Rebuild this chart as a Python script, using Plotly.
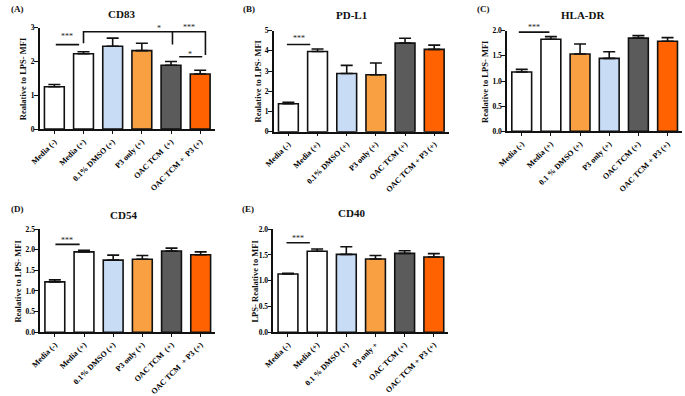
import plotly.graph_objects as go

W, H = 685, 396

# ---------------- data ----------------
LABELS_A = ["Media (-)", "Media (+)", "0.1% DMSO (+)", "P3 only (+)", "OAC TCM  (+)", "OAC TCM +  P3 (+)"]
LABELS_B = ["Media (-)", "Media (+)", "0.1% DMSO (+)", "P3 only (+)", "OAC TCM (+)", "OAC TCM + P3 (+)"]
LABELS_C = ["Media (-)", "Media (+)", "0.1 % DMSO (+)", "P3 only (+)", "OAC TCM (+)", "OAC TCM + P3 (+)"]
LABELS_D = ["Media (-)", "Media (+)", "0.1% DMSO (+)", "P3 only (+)", "OAC TCM  (+)", "OAC TCM  + P3 (+)"]
LABELS_E = ["Media (-)", "Media (+)", "0.1 % DMSO (+)", "P3 only +", "OAC TCM (+)", "OAC TCM + P3 (+)"]

CD83 = [1.25, 2.23, 2.45, 2.32, 1.89, 1.63]
CD83_ERR = [0.07, 0.06, 0.24, 0.22, 0.11, 0.11]
PDL1 = [1.38, 3.97, 2.88, 2.82, 4.38, 4.07]
PDL1_ERR = [0.08, 0.12, 0.40, 0.58, 0.24, 0.21]
HLADR = [1.18, 1.83, 1.535, 1.45, 1.85, 1.79]
HLADR_ERR = [0.05, 0.05, 0.20, 0.13, 0.05, 0.07]
CD54 = [1.22, 1.95, 1.75, 1.77, 1.97, 1.88]
CD54_ERR = [0.05, 0.04, 0.12, 0.09, 0.07, 0.07]
CD40 = [1.13, 1.57, 1.51, 1.42, 1.53, 1.46]
CD40_ERR = [0.015, 0.045, 0.15, 0.07, 0.05, 0.065]

WHITE, BLUE, ORANGE, GRAY, RED = "#ffffff", "#c8dcf6", "#f9a043", "#5b5b5b", "#ff6200"
COLORS_STD = [WHITE, WHITE, BLUE, ORANGE, GRAY, RED]
COLORS_C = [WHITE, WHITE, ORANGE, BLUE, GRAY, RED]

# significance brackets: (x points, y points) in data units; stars: (x, y, text)
SIG_A = [([0.05, 0.85], [2.50, 2.50]),
         ([1.0, 1.0, 5.18, 5.18], [2.54, 2.88, 2.88, 2.19]),
         ([4.05, 4.05], [2.88, 2.50]),
         ([4.28, 5.07], [2.14, 2.14])]
STARS_A = [(0.45, 2.74, "***"), (3.6, 2.97, "*"), (4.62, 3.02, "***"), (4.65, 2.21, "*")]
SIG_B = [([-0.05, 0.75], [4.31, 4.31])]
STARS_B = [(0.35, 4.62, "***")]
SIG_C = [([-0.1, 0.95], [1.97, 1.97])]
STARS_C = [(0.42, 2.06, "***")]
SIG_D = [([0.02, 0.85], [2.13, 2.13])]
STARS_D = [(0.43, 2.22, "***")]
SIG_E = [([-0.05, 0.75], [1.735, 1.735])]
STARS_E = [(0.35, 1.82, "***")]

PANELS = [
    dict(tag="(A)", title="CD83", ytitle="Realative to LPS- MFI", vals=CD83, err=CD83_ERR,
         labels=LABELS_A, colors=COLORS_STD, yr=[0, 3], dt=1, fmt="d", sig=SIG_A, stars=STARS_A,
         box=(30.2, 207.8, 24.3, 128.3), tagpos=(8, 5), titlepos=(113, 10), ytx=14),
    dict(tag="(B)", title="PD-L1", ytitle="Realative to LPS- MFI", vals=PDL1, err=PDL1_ERR,
         labels=LABELS_B, colors=COLORS_STD, yr=[0, 5], dt=1, fmt="d", sig=SIG_B, stars=STARS_B,
         box=(267.7, 445.3, 27.3, 131.0), tagpos=(243, 5), titlepos=(347, 11), ytx=252),
    dict(tag="(C)", title="HLA-DR", ytitle="Realative to LPS- MFI", vals=HLADR, err=HLADR_ERR,
         labels=LABELS_C, colors=COLORS_C, yr=[0, 2], dt=0.5, fmt=".1f", sig=SIG_C, stars=STARS_C,
         box=(504.5, 682.1, 27.3, 130.7), tagpos=(481, 5), titlepos=(581, 11), ytx=482),
    dict(tag="(D)", title="CD54", ytitle="Realative to LPS- MFI", vals=CD54, err=CD54_ERR,
         labels=LABELS_D, colors=COLORS_STD, yr=[0, 2.5], dt=0.5, fmt=".1f", sig=SIG_D, stars=STARS_D,
         box=(30.7, 208.3, 231.0, 336.7), tagpos=(8, 210), titlepos=(115, 216), ytx=8),
    dict(tag="(E)", title="CD40", ytitle="LPS- Realative to MFI", vals=CD40, err=CD40_ERR,
         labels=LABELS_E, colors=COLORS_STD, yr=[0, 2], dt=0.5, fmt=".1f", sig=SIG_E, stars=STARS_E,
         box=(267.3, 444.9, 231.0, 336.7), tagpos=(242, 210), titlepos=(347, 214), ytx=248.5),
]

FONT = "Liberation Serif"
INK = "#111111"


def to_paper(p, xv, yv):
    """Map a data point of a panel to paper coordinates via the panel's axis ranges."""
    x0, x1, yt, yb = p["box"]
    px = x0 + (xv + 0.5) / 6.0 * (x1 - x0)
    py = yb - (yv - p["yr"][0]) / (p["yr"][1] - p["yr"][0]) * (yb - yt)
    return px / W, 1 - py / H


fig = go.Figure()
annotations = []
layout_axes = {}

for i, p in enumerate(PANELS, start=1):
    xa = "x" if i == 1 else f"x{i}"
    ya = "y" if i == 1 else f"y{i}"
    x0, x1, yt, yb = p["box"]
    cats = list(range(len(p["vals"])))
    fig.add_trace(go.Bar(
        x=cats, y=p["vals"], xaxis=xa, yaxis=ya,
        marker=dict(color=p["colors"], line=dict(color=INK, width=1.6)),
        error_y=dict(type="data", array=p["err"], arrayminus=[0] * len(cats), symmetric=False,
                     color=INK, thickness=1.6, width=6),
        showlegend=False, hoverinfo="skip",
    ))
    for xs, ys in p["sig"]:
        fig.add_trace(go.Scatter(x=xs, y=ys, xaxis=xa, yaxis=ya, mode="lines",
                                 line=dict(color=INK, width=1.6), showlegend=False,
                                 hoverinfo="skip", cliponaxis=False))
    for sx, sy, st in p["stars"]:
        ax_, ay_ = to_paper(p, sx, sy)
        annotations.append(dict(x=ax_, y=ay_, xref="paper", yref="paper", text=st, showarrow=False,
                                font=dict(family=FONT, size=8, color="#222"),
                                xanchor="center", yanchor="middle"))
    key = "" if i == 1 else str(i)
    layout_axes["xaxis" + key] = dict(
        domain=[x0 / W, x1 / W], anchor=ya, range=[-0.5, 5.5],
        tickvals=cats, ticktext=p["labels"], tickangle=-45,
        tickfont=dict(family=FONT, size=8, color="#000000", weight="bold"),
        showline=True, linecolor=INK, linewidth=1.6, ticks="outside",
        ticklen=3, tickwidth=1.2, tickcolor=INK, showgrid=False, zeroline=False,
        fixedrange=True,
    )
    layout_axes["yaxis" + key] = dict(
        domain=[1 - yb / H, 1 - yt / H], anchor=xa, range=p["yr"], dtick=p["dt"],
        tick0=0, tickformat=p["fmt"],
        tickfont=dict(family=FONT, size=7.5, color="#000000", weight="bold"),
        showline=True, linecolor=INK, linewidth=1.6, ticks="outside",
        ticklen=4, tickwidth=1.2, tickcolor=INK, showgrid=False, zeroline=False,
        ticklabelstandoff=-2, fixedrange=True,
    )
    annotations.append(dict(x=p["tagpos"][0] / W, y=1 - p["tagpos"][1] / H, xref="paper", yref="paper",
                            text="<b>" + p["tag"] + "</b>", showarrow=False,
                            font=dict(family=FONT, size=9, color=INK),
                            xanchor="center", yanchor="middle"))
    annotations.append(dict(x=p["titlepos"][0] / W, y=1 - p["titlepos"][1] / H, xref="paper", yref="paper",
                            text="<b>" + p["title"] + "</b>", showarrow=False,
                            font=dict(family=FONT, size=11, color=INK),
                            xanchor="center", yanchor="middle"))
    annotations.append(dict(x=p["ytx"] / W, y=1 - ((yt + yb) / 2) / H, xref="paper", yref="paper",
                            text="<b>" + p["ytitle"] + "</b>", showarrow=False, textangle=-90,
                            font=dict(family=FONT, size=8.5, color=INK),
                            xanchor="center", yanchor="middle"))

fig.update_layout(
    width=W, height=H, margin=dict(l=0, r=0, t=0, b=0),
    paper_bgcolor="white", plot_bgcolor="white",
    bargap=0.32, annotations=annotations, **layout_axes,
)

fig.write_html("out.html", config={"displayModeBar": False},
               post_script="document.body.style.margin='0';document.body.style.overflow='hidden';")
